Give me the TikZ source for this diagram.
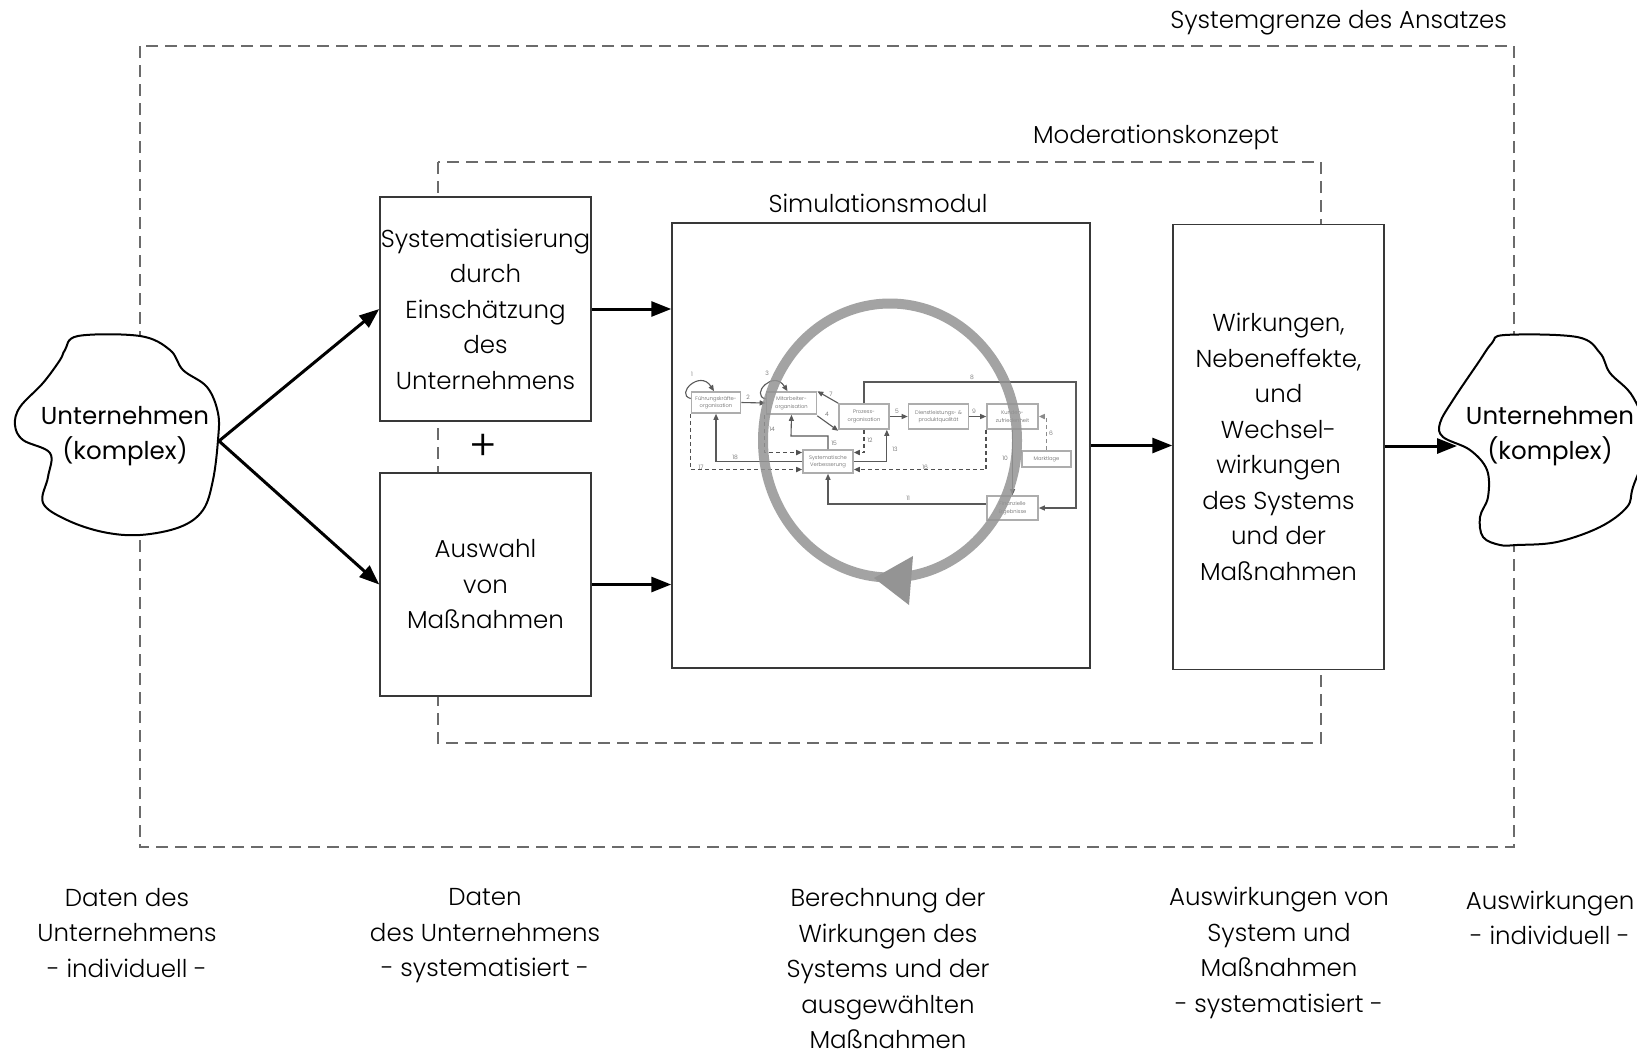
\documentclass[tikz,border=0pt]{standalone}
\usepackage{fontspec}
\setmainfont{Poppins}[UprightFont={* Light}]
\newfontfamily\cloudfont{Poppins}
\usetikzlibrary{arrows.meta}

\definecolor{boxline}{gray}{0.22}
\definecolor{frameline}{gray}{0.42}
\definecolor{ringgray}{gray}{0.58}
\definecolor{sboxline}{gray}{0.68}
\definecolor{sline}{gray}{0.35}
\definecolor{stext}{gray}{0.38}

\tikzset{
  bigbox/.style={draw=boxline, line width=1.5pt, fill=white, inner sep=0pt,
    align=center, font=\bigfont},
  bigarrow/.style={line width=3pt, -{Triangle[length=20pt,width=15pt]}},
  frame/.style={draw=frameline, line width=2.4pt, dash pattern=on 12pt off 7pt},
  lbl/.style={align=center, font=\bigfont, inner sep=0pt},
  cloud/.style={draw=black, line width=2pt, fill=white},
  sbox/.style={draw=sboxline, line width=1.6pt, fill=white, inner sep=0pt,
    align=center, text=stext, font=\smallfont},
  sarrow/.style={draw=sline, line width=1.1pt, -{Triangle[length=6pt,width=5pt]}},
  sdash/.style={draw=sline!90!black, line width=1.5pt, dash pattern=on 4pt off 3pt,
    -{Triangle[length=6pt,width=5pt]}},
  snum/.style={text=stext, font=\numfont, inner sep=0pt},
}
\newcommand{\bigfont}{\fontsize{24.5}{35.5}\selectfont}
\newcommand{\smallfont}{\fontsize{5.2}{7.5}\selectfont}
\newcommand{\numfont}{\fontsize{6}{7}\selectfont}

\begin{document}
\begin{tikzpicture}[x=1pt,y=-1pt]
\useasboundingbox (0,0) rectangle (1637,1055);
\clip (0,0) rectangle (1637,1055);

% system boundary and moderation concept frames
\draw[frame] (140,46) rectangle (1514,847);
\node[lbl, anchor=east] (tsys) at (1507,23) {Systemgrenze des Ansatzes};
\draw[frame] (438,162) rectangle (1321,743);
\node[lbl] (tmod) at (1156,137) {Moderationskonzept};

% enterprise clouds
\draw[cloud] plot[smooth cycle, tension=0.6] coordinates {
  (65,350) (78,336) (140,336) (170,350) (183,370) (207,387) (218,413)
  (218,440) (213,480) (203,510) (180,527) (140,535) (103,532) (67,520)
  (43,503) (48,477) (50,453) (23,440) (15,425) (20,407) (43,383) (60,360)};
\node[lbl, font=\cloudfont\bigfont] (cl) at (125,436) {Unternehmen\\(komplex)};
\coordinate (clL) at (219,441);

\draw[cloud] plot[smooth cycle, tension=0.6] coordinates {
  (1492,343) (1505,335) (1577,337) (1600,353) (1610,373) (1633,397)
  (1648,440) (1633,487) (1627,507) (1600,527) (1557,542) (1517,545)
  (1500,545) (1483,537) (1480,517) (1488,497) (1487,470) (1470,450)
  (1443,437) (1440,423) (1453,400) (1478,363)};
\node[lbl, font=\cloudfont\bigfont] (cr) at (1550,436) {Unternehmen\\(komplex)};
\coordinate (clR) at (1457,446);

% main blocks
\node[bigbox, minimum width=211pt, minimum height=224pt] (sys) at (485.5,309)
  {Systematisierung\\durch\\Einschätzung\\des\\Unternehmens};
\node[bigbox, minimum width=211pt, minimum height=223pt] (aus) at (485.5,584.5)
  {Auswahl\\von\\Maßnahmen};
\node[lbl, font=\fontsize{42}{42}\selectfont] (plus) at (483,447) {+};
\node[bigbox, minimum width=418pt, minimum height=445pt] (sim) at (881,445.5) {};
\node[lbl] (tsim) at (878,203) {Simulationsmodul};
\node[bigbox, minimum width=211pt, minimum height=445pt] (wir) at (1278.5,447)
  {Wirkungen,\\Nebeneffekte,\\und\\Wechsel-\\wirkungen\\des Systems\\und der\\Maßnahmen};

% main flow
\draw[bigarrow] (clL) -- (sys.west);
\draw[bigarrow] (clL) -- (aus.west);
\draw[bigarrow] (sys.east) -- (sim.west |- sys.east);
\draw[bigarrow] (aus.east) -- (sim.west |- aus.east);
\draw[bigarrow] (sim.east) -- (wir.west |- sim.east);
\draw[bigarrow] (wir.east |- clR) -- (clR);

% simulation model: factors
\node[sbox, minimum width=49pt, minimum height=21pt] (fk) at (716,402.5) {Führungskräfte-\\organisation};
\node[sbox, minimum width=50pt, minimum height=22pt] (ma) at (791.5,403) {Mitarbeiter-\\organisation};
\node[sbox, minimum width=50pt, minimum height=25pt] (po) at (864,416.5) {Prozess-\\organisation};
\node[sbox, minimum width=60pt, minimum height=25pt] (dq) at (938.5,416.5) {Dienstleistungs- \&\\produktqualität};
\node[sbox, minimum width=51pt, minimum height=25pt] (kz) at (1012.5,416.5) {Kunden-\\zufriedenheit};
\node[sbox, minimum width=49pt, minimum height=16pt] (ml) at (1046.5,459) {Marktlage};
\node[sbox, minimum width=50pt, minimum height=23pt] (sv) at (828,461.5) {Systematische\\Verbesserung};
\node[sbox, minimum width=51pt, minimum height=24pt] (fe) at (1012.5,508) {Finanzielle\\Ergebnisse};

% simulation model: relations
\draw[sarrow] ([yshift=4pt]fk.west) .. controls +(-16,-4) and +(-14,-22) .. ([xshift=-2pt]fk.north);
\node[snum] at (692,374) {1};
\draw[sarrow] (fk.east) -- (ma.west);
\node[snum] at (748,397) {2};
\draw[sarrow] ([yshift=4pt]ma.west) .. controls +(-16,-4) and +(-14,-22) .. ([xshift=-4pt]ma.north);
\node[snum] at (767,373) {3};
\draw[sarrow] ([yshift=-1pt]ma.south east) -- ([yshift=-1pt]po.south west);
\node[snum] at (827,414) {4};
\draw[sarrow] (po.north west) -- (ma.north east);
\node[snum] at (831,394) {7};
\draw[sarrow] (po.east) -- (dq.west);
\node[snum] at (897,411) {5};
\draw[sarrow] (dq.east) -- (kz.west);
\node[snum] at (974,411) {9};
\coordinate (c8) at (1076,382);
\draw[sarrow] (po.north) |- (c8) |- (fe.east);
\node[snum] at (972,377) {8};
\draw[sdash, draw=sboxline!80!black] (ml.north) |- (kz.east);
\node[snum, anchor=west] at (1049,433) {6};
\draw[sarrow] (kz.south) -- (fe.north);
\node[snum] at (1005,458) {10};
\draw[sarrow] ([yshift=4pt]fe.west) -| (sv.south);
\node[snum] at (908,498) {11};
\draw[sdash] (po.south) |- ([yshift=9pt]sv.east);
\node[snum] at (870,440) {12};
\draw[sarrow] (sv.east) -| ([xshift=-3pt]po.south east);
\node[snum] at (895,449) {13};
\draw[sdash] ([xshift=-1pt]ma.south west) |- ([yshift=9pt]sv.west);
\node[snum] at (772,429) {14};
\coordinate (c15) at (791,436);
\draw[sarrow] (sv.north) |- (c15) -- (ma.south);
\node[snum] at (834,443) {15};
\draw[sdash] (kz.south west) |- ([yshift=-8pt]sv.east);
\node[snum] at (925,467) {16};
\draw[sdash] (fk.south west) |- ([yshift=-8pt]sv.west);
\node[snum] at (701,467) {17};
\draw[sarrow] (sv.west) -| (fk.south);
\node[snum] at (735,457) {18};

% simulation cycle
\draw[ringgray, line width=10pt, opacity=0.85] (890,440.5) ellipse [x radius=127pt, y radius=137pt];
\fill[ringgray] (913,556) -- (909,605) -- (874,578) -- cycle;

% bottom captions
\node[lbl] (b1) at (127,933) {Daten des\\Unternehmens\\- individuell -};
\node[lbl] (b2) at (485,936) {Daten\\des Unternehmens\\- systematisiert -};
\node[lbl] (b3) at (888,969) {Berechnung der\\Wirkungen des\\Systems und der\\ausgewählten\\Maßnahmen};
\node[lbl] (b4) at (1279,953) {Auswirkungen von\\System und\\Maßnahmen\\- systematisiert -};
\node[lbl] (b5) at (1550,918) {Auswirkungen\\- individuell -};
\end{tikzpicture}
\end{document}
